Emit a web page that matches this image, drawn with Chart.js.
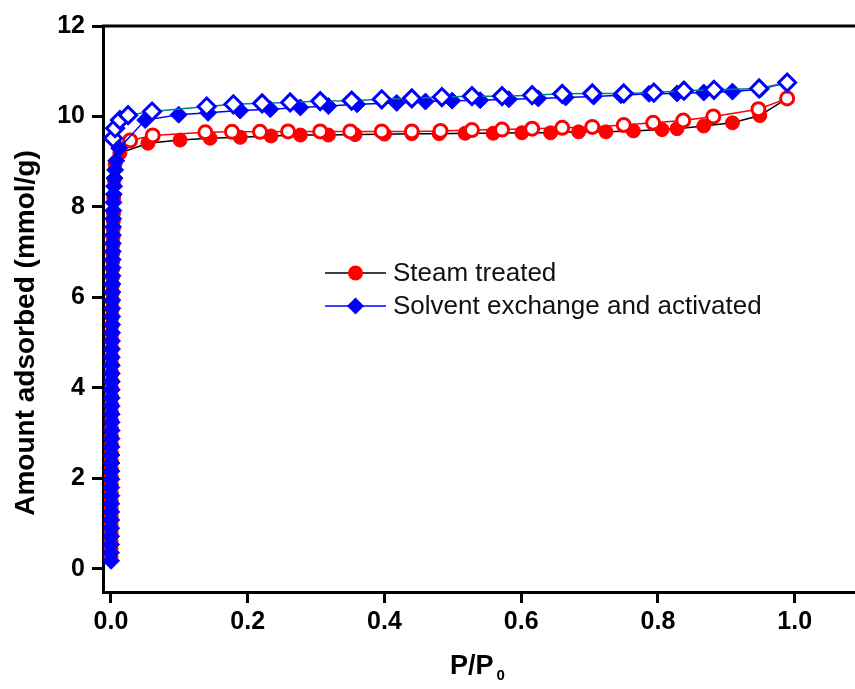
<!DOCTYPE html>
<html>
<head>
<meta charset="utf-8">
<script src="https://cdn.jsdelivr.net/npm/chart.js@4/dist/chart.umd.min.js"></script>
<style>
  html, body { margin: 0; padding: 0; background: #fff; overflow: hidden; }
  /* the original figure is cropped on the right, so the canvas runs past the window edge */
  #wrap { width: 867px; height: 689px; position: relative; }
</style>
</head>
<body>
<div id="wrap"><canvas id="main-chart"></canvas></div>
<script>
// steam treated, adsorption branch (filled circles)
var steamAdsP = [0.0000, 0.0001, 0.0001, 0.0002, 0.0002, 0.0003, 0.0003, 0.0004, 0.0004, 0.0005,
  0.0005, 0.0006, 0.0006, 0.0007, 0.0007, 0.0008, 0.0008, 0.0009, 0.0009, 0.0010,
  0.0010, 0.0011, 0.0011, 0.0012, 0.0012, 0.0013, 0.0013, 0.0014, 0.0015, 0.0016,
  0.0017, 0.0018, 0.0019, 0.0020, 0.0021, 0.0022, 0.0023, 0.0024, 0.0026, 0.0028,
  0.0030, 0.0032, 0.0034, 0.0036, 0.0040, 0.0046, 0.0060,
  0.013, 0.054, 0.101, 0.145, 0.189, 0.234, 0.277, 0.318, 0.357, 0.400, 0.440, 0.480,
  0.518, 0.559, 0.601, 0.643, 0.684, 0.724, 0.764, 0.806, 0.828, 0.867, 0.909, 0.949, 0.989];
var steamAdsQ = [0.27, 0.45, 0.62, 0.80, 0.97, 1.15, 1.33, 1.50, 1.68, 1.86,
  2.03, 2.21, 2.39, 2.56, 2.74, 2.92, 3.09, 3.27, 3.45, 3.62,
  3.80, 3.98, 4.15, 4.33, 4.51, 4.68, 4.86, 5.04, 5.21, 5.39,
  5.57, 5.74, 5.92, 6.10, 6.27, 6.45, 6.63, 6.80, 6.98, 7.16,
  7.33, 7.51, 7.69, 7.86, 8.20, 8.60, 8.95,
  9.19, 9.41, 9.48, 9.52, 9.54, 9.57, 9.59, 9.59, 9.60, 9.61, 9.62, 9.62,
  9.63, 9.63, 9.64, 9.64, 9.66, 9.66, 9.68, 9.71, 9.73, 9.79, 9.86, 10.02, 10.40];

// steam treated, desorption branch (open circles)
var steamDesP = [0.028, 0.061, 0.138, 0.177, 0.218, 0.259, 0.306, 0.350, 0.396, 0.440, 0.482,
  0.528, 0.572, 0.616, 0.660, 0.704, 0.750, 0.793, 0.837, 0.881, 0.947, 0.989];
var steamDesQ = [9.47, 9.58, 9.65, 9.66, 9.66, 9.67, 9.67, 9.67, 9.67, 9.67, 9.68,
  9.70, 9.71, 9.73, 9.75, 9.77, 9.81, 9.86, 9.91, 10.00, 10.16, 10.40];

// solvent exchanged and activated, adsorption branch (filled diamonds)
var solvAdsP = [0.0001, 0.0001, 0.0002, 0.0002, 0.0003, 0.0003, 0.0004, 0.0004, 0.0005, 0.0005,
  0.0006, 0.0006, 0.0007, 0.0007, 0.0008, 0.0008, 0.0009, 0.0009, 0.0010, 0.0010,
  0.0011, 0.0011, 0.0012, 0.0012, 0.0013, 0.0013, 0.0014, 0.0014, 0.0015, 0.0016,
  0.0017, 0.0018, 0.0019, 0.0020, 0.0021, 0.0022, 0.0023, 0.0024, 0.0025, 0.0026,
  0.0028, 0.0030, 0.0032, 0.0034, 0.0036, 0.0040, 0.0045, 0.0052, 0.0060, 0.0075, 0.012,
  0.050, 0.099, 0.142, 0.189, 0.233, 0.277, 0.318, 0.360, 0.418, 0.460, 0.499, 0.540,
  0.582, 0.625, 0.665, 0.706, 0.746, 0.787, 0.828, 0.867, 0.909, 0.950, 0.989];
var solvAdsQ = [0.18, 0.36, 0.54, 0.72, 0.90, 1.08, 1.26, 1.44, 1.62, 1.80,
  1.98, 2.16, 2.34, 2.52, 2.70, 2.88, 3.06, 3.24, 3.42, 3.60,
  3.78, 3.96, 4.14, 4.32, 4.50, 4.68, 4.86, 5.04, 5.22, 5.40,
  5.58, 5.76, 5.94, 6.12, 6.30, 6.48, 6.66, 6.84, 7.02, 7.20,
  7.38, 7.56, 7.74, 7.92, 8.10, 8.28, 8.46, 8.64, 8.82, 9.02, 9.30,
  9.92, 10.04, 10.08, 10.13, 10.16, 10.20, 10.23, 10.27, 10.30, 10.33, 10.35, 10.36,
  10.38, 10.40, 10.42, 10.44, 10.47, 10.50, 10.51, 10.53, 10.55, 10.60, 10.75];

// solvent exchanged and activated, desorption branch (open diamonds)
var solvDesP = [0.003, 0.006, 0.013, 0.025, 0.060, 0.140, 0.179, 0.221, 0.262, 0.306, 0.352,
  0.396, 0.440, 0.484, 0.528, 0.572, 0.616, 0.660, 0.704, 0.750, 0.794, 0.838, 0.882, 0.948, 0.989];
var solvDesQ = [9.52, 9.74, 9.92, 10.03, 10.11, 10.22, 10.27, 10.29, 10.31, 10.34, 10.35,
  10.38, 10.40, 10.43, 10.45, 10.45, 10.47, 10.50, 10.51, 10.51, 10.53, 10.57, 10.59, 10.62, 10.75];

var xTicks = [0.0, 0.2, 0.4, 0.6, 0.8, 1.0];
var yTicks = [0, 2, 4, 6, 8, 10, 12];
var seriesNames = ['Steam treated', 'Solvent exchange and activated'];

function toPoints(px, qy) {
  return px.map(function (p, i) { return { x: p, y: qy[i] }; });
}

var FONT = "'Liberation Sans', Arial, Helvetica, sans-serif";
Chart.defaults.font.family = FONT;
Chart.defaults.color = '#000';

// legend, axis titles and the top frame line
var decor = {
  id: 'decor',
  afterDraw: function (chart) {
    var c = chart.ctx;
    var a = chart.chartArea;
    c.save();

    c.strokeStyle = '#000';
    c.lineWidth = 3;
    c.beginPath();
    c.moveTo(a.left - 1, a.top);
    c.lineTo(chart.width, a.top);
    c.stroke();

    c.fillStyle = '#000';
    c.save();
    c.translate(26, 333);
    c.rotate(-Math.PI / 2);
    c.font = 'bold 28px ' + FONT;
    c.textAlign = 'center';
    c.textBaseline = 'middle';
    c.fillText('Amount adsorbed (mmol/g)', 0, 0);
    c.restore();

    c.font = 'bold 27px ' + FONT;
    c.textAlign = 'left';
    c.textBaseline = 'alphabetic';
    var w = c.measureText('P/P').width;
    var x0 = 450;
    c.fillText('P/P', x0, 674);
    c.font = 'bold 15px ' + FONT;
    c.fillText('0', x0 + w + 3, 680);

    // legend rows
    var rows = [
      { ds: chart.data.datasets[0], y: 273 },
      { ds: chart.data.datasets[2], y: 306 }
    ];
    rows.forEach(function (r) {
      c.strokeStyle = r.ds.borderColor;
      c.lineWidth = 1.5;
      c.beginPath();
      c.moveTo(325, r.y);
      c.lineTo(386, r.y);
      c.stroke();
      c.fillStyle = r.ds.pointBackgroundColor;
      c.beginPath();
      if (r.ds.pointStyle === 'rectRot') {
        c.moveTo(355.5 - 8.5, r.y);
        c.lineTo(355.5, r.y - 8.5);
        c.lineTo(355.5 + 8.5, r.y);
        c.lineTo(355.5, r.y + 8.5);
        c.closePath();
      } else {
        c.arc(355.5, r.y, 7.5, 0, Math.PI * 2);
      }
      c.fill();
      c.fillStyle = '#111';
      c.font = '26px ' + FONT;
      c.textBaseline = 'middle';
      c.fillText(r.ds.label, 393, r.y + 1);
    });
    c.restore();
  }
};

var ctx = document.getElementById('main-chart');
var chart = new Chart(ctx, {
  type: 'scatter',
  data: {
    datasets: [
      {
        label: seriesNames[0],
        data: toPoints(steamAdsP, steamAdsQ),
        showLine: true,
        borderColor: '#000',
        borderWidth: 1.5,
        pointStyle: 'circle',
        pointRadius: 7,
        pointBackgroundColor: '#ff0000',
        pointBorderColor: '#ff0000',
        pointBorderWidth: 1,
        order: 4
      },
      {
        label: seriesNames[0] + ' (desorption)',
        data: toPoints(steamDesP, steamDesQ),
        showLine: true,
        borderColor: '#ff0000',
        borderWidth: 1.5,
        pointStyle: 'circle',
        pointRadius: 6.5,
        pointBackgroundColor: '#fff',
        pointBorderColor: '#ff0000',
        pointBorderWidth: 3,
        order: 3
      },
      {
        label: seriesNames[1],
        data: toPoints(solvAdsP, solvAdsQ),
        showLine: true,
        borderColor: '#0000ff',
        borderWidth: 1.5,
        pointStyle: 'rectRot',
        pointRadius: 8.5,
        pointBackgroundColor: '#0000ff',
        pointBorderColor: '#0000ff',
        pointBorderWidth: 1,
        order: 2
      },
      {
        label: seriesNames[1] + ' (desorption)',
        data: toPoints(solvDesP, solvDesQ),
        showLine: true,
        borderColor: '#008080',
        borderWidth: 1.5,
        pointStyle: 'rectRot',
        pointRadius: 8.5,
        pointBackgroundColor: '#fff',
        pointBorderColor: '#0000ff',
        pointBorderWidth: 3,
        order: 1
      }
    ]
  },
  options: {
    responsive: true,
    maintainAspectRatio: false,
    animation: false,
    layout: { padding: { top: 26, right: 0, left: 0, bottom: 0 } },
    plugins: {
      legend: { display: false },
      tooltip: { enabled: false }
    },
    scales: {
      x: {
        type: 'linear',
        min: -0.0117,
        max: 1.089,
        afterBuildTicks: function (axis) {
          axis.ticks = xTicks.map(function (v) { return { value: v }; });
        },
        afterFit: function (axis) { axis.height = 97; },
        ticks: {
          padding: 4,
          font: { size: 25, weight: 'bold' },
          color: '#000',
          callback: function (v) { return Number(v).toFixed(1); }
        },
        grid: { drawOnChartArea: false, drawTicks: true, tickLength: 11, tickWidth: 3, tickColor: '#000' },
        border: { display: true, width: 3, color: '#000' }
      },
      y: {
        type: 'linear',
        min: -0.51,
        max: 12,
        afterBuildTicks: function (axis) {
          axis.ticks = yTicks.map(function (v) { return { value: v }; });
        },
        afterFit: function (axis) { axis.width = 103; },
        ticks: {
          padding: 7,
          font: { size: 25, weight: 'bold' },
          color: '#000',
          callback: function (v) { return String(v); }
        },
        grid: { drawOnChartArea: false, drawTicks: true, tickLength: 11, tickWidth: 3, tickColor: '#000' },
        border: { display: true, width: 3, color: '#000' }
      }
    }
  },
  plugins: [decor]
});
</script>
</body>
</html>
